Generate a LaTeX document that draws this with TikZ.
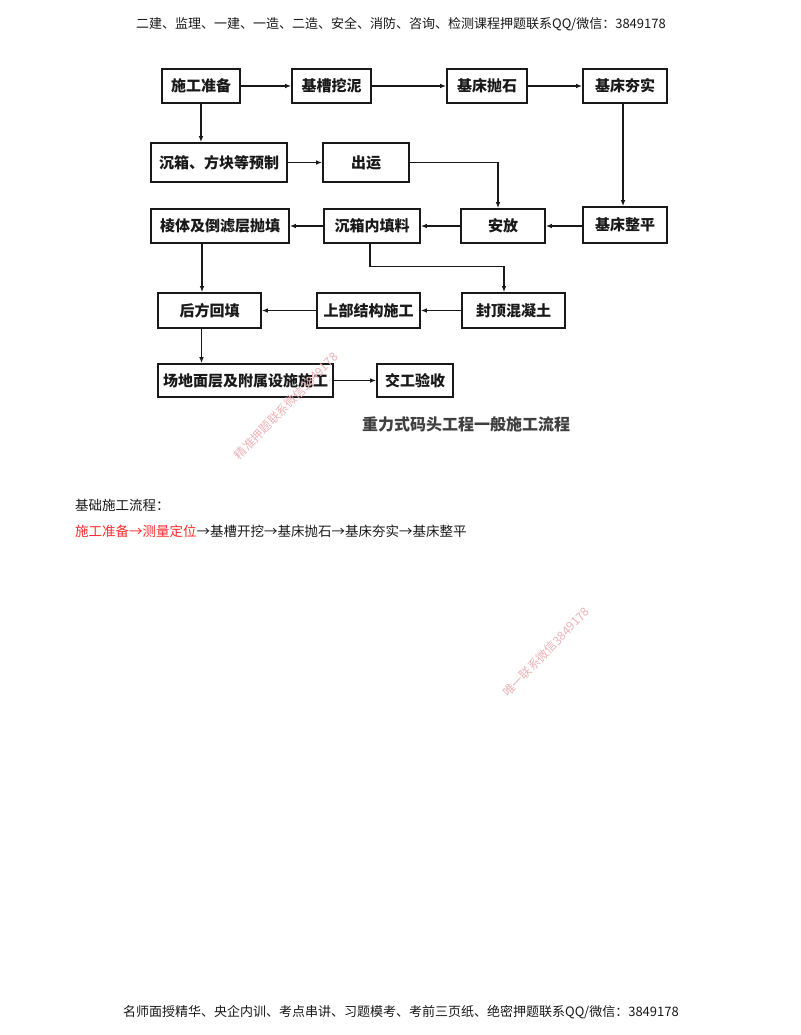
\documentclass[tikz,border=0pt]{standalone}
\usepackage{fontspec}
\setmainfont{Noto Sans CJK SC}
\usetikzlibrary{arrows.meta}
\definecolor{ink}{RGB}{25,25,25}
\definecolor{wm}{RGB}{238,178,182}
\definecolor{redtxt}{RGB}{255,45,45}
\begin{document}
\begin{tikzpicture}[x=1pt,y=-1pt,
  box/.style={draw=ink, line width=1.6pt, minimum height=34pt, inner sep=0pt,
    font=\fontsize{15}{15}\selectfont\bfseries, text=ink},
  arr/.style={-{Latex[length=6pt,width=4.5pt]}, line width=1.1pt, draw=ink},
  plain/.style={inner sep=0pt, font=\fontsize{13}{13}\selectfont, text=ink},
  wmark/.style={inner sep=0pt, font=\fontsize{12}{12}\selectfont, text=wm}]
\useasboundingbox (0,0) rectangle (800,1035);
\fill[white] (0,0) rectangle (800,1035);

% header / footer
\node[plain] (hdr) at (401,24) {二建、监理、一建、一造、二造、安全、消防、咨询、检测课程押题联系QQ/微信：3849178};
\node[plain] (ftr) at (401,1012) {名师面授精华、央企内训、考点串讲、习题模考、考前三页纸、绝密押题联系QQ/微信：3849178};

% boxes
\node[box, minimum width=78pt] (n1) at (201,86) {施工准备};
\node[box, minimum width=79pt] (n2) at (331.5,86) {基槽挖泥};
\node[box, minimum width=80pt] (n3) at (487,86) {基床抛石};
\node[box, minimum width=84pt] (n4) at (625,86) {基床夯实};
\node[box, minimum width=136pt, minimum height=39pt] (n5) at (219,162.5) {沉箱、方块等预制};
\node[box, minimum width=86pt, minimum height=39pt] (n6) at (366,162.5) {出运};
\node[box, minimum width=138pt] (n7) at (220,226) {棱体及倒滤层抛填};
\node[box, minimum width=96pt] (n8) at (372,226) {沉箱内填料};
\node[box, minimum width=84pt] (n9) at (503,226) {安放};
\node[box, minimum width=84pt, minimum height=36pt] (n10) at (625,225) {基床整平};
\node[box, minimum width=103pt, minimum height=35pt] (n11) at (209.5,310.5) {后方回填};
\node[box, minimum width=103pt, minimum height=35pt] (n12) at (368.5,310.5) {上部结构施工};
\node[box, minimum width=103pt, minimum height=35pt] (n13) at (513.5,310.5) {封顶混凝土};
\node[box, minimum width=175pt, minimum height=33pt] (n14) at (245.5,380.5) {场地面层及附属设施施工};
\node[box, minimum width=76pt, minimum height=33pt] (n15) at (415,380.5) {交工验收};
\node[inner sep=0pt, font=\fontsize{16}{16}\selectfont\bfseries, text=black!75] (cap) at (466,424) {重力式码头工程一般施工流程};

% connectors
\draw[arr] (n1.east) -- (n2.west);
\draw[arr] (n2.east) -- (n3.west);
\draw[arr] (n3.east) -- (n4.west);
\draw[arr] ([xshift=-2pt]n4.south) -- ([xshift=-2pt]n4.south |- n10.north);
\draw[arr] (n1.south) -- (n1.south |- n5.north);
\draw[arr] (n5.east) -- (n6.west);
\draw[arr] (n6.east) -| ([xshift=-5pt]n9.north);
\draw[arr] (n10.west |- n9.east) -- (n9.east);
\draw[arr] (n9.west) -- (n8.east);
\draw[arr] (n8.west) -- (n7.west -| n7.east);
\draw[arr] ([xshift=-18pt]n7.south) -- ([xshift=-18pt]n7.south |- n11.north);
\coordinate (turn) at ([xshift=-2pt,yshift=-23pt]n8.south);
\draw[arr] ([xshift=-2pt]n8.south) -- (turn) -| ([xshift=-9.5pt]n13.north);
\draw[arr] (n13.west) -- (n12.east);
\draw[arr] (n12.west) -- (n11.east);
\draw[arr] ([xshift=-8pt]n11.south) -- ([xshift=-8pt]n11.south |- n14.north);
\draw[arr] (n14.east) -- (n15.west);

% text block
\node[plain, anchor=west, font=\fontsize{13.5}{13.5}\selectfont] (t1) at (75,505) {基础施工流程：};
\node[plain, anchor=west, font=\fontsize{13.5}{13.5}\selectfont] (t2) at (75,531) {\textcolor{redtxt}{施工准备→测量定位}→基槽开挖→基床抛石→基床夯实→基床整平};

% watermarks
\node[wmark, rotate=46] (wm1) at (286,406) {精准押题联系微信3849178};
\node[wmark, rotate=46] (wm2) at (546,652) {唯一联系微信3849178};
\end{tikzpicture}
\end{document}
